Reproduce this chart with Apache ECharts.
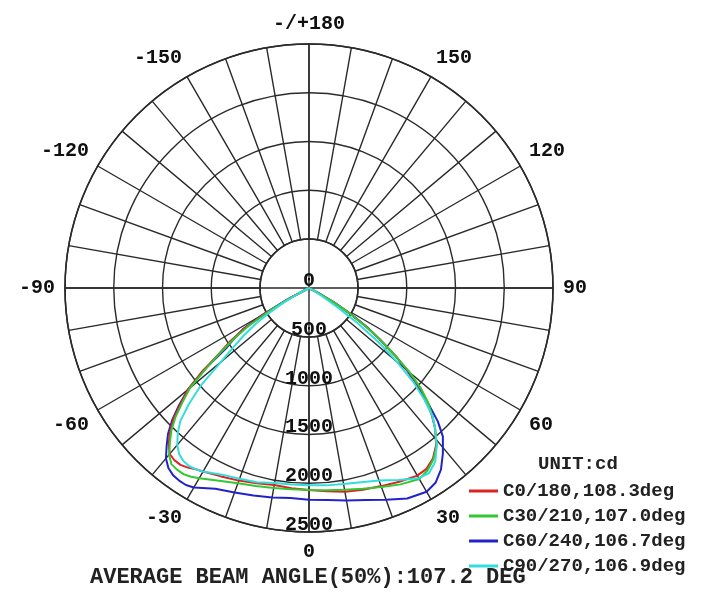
<!DOCTYPE html>
<html>
<head>
<meta charset="utf-8">
<script src="https://cdn.jsdelivr.net/npm/echarts@6/dist/echarts.min.js"></script>
<style>html,body{margin:0;padding:0;background:#fff;}#c{width:709px;height:600px;}</style>
</head>
<body>
<div id="c"></div>
<script>
// Angles in degrees (0 = nadir, bottom), intensities in cd
var angles = [-90,-64,-62,-60,-58,-56,-54,-52,-50,-48,-46,-44,-42,-40,-38,-36,-34,-32,-30,-25,-20,-15,-10,-5,0,5,10,15,20,25,30,33,36,39,42,44,46,48,50,52,54,56,58,60,62,64,90];
var c0_180  = [0,0,230,510,770,970,1130,1380,1620,1770,1930,2050,2150,2220,2240,2240,2220,2190,2170,2130,2100,2070,2050,2060,2070,2090,2120,2140,2160,2190,2220,2210,2160,2070,1930,1810,1690,1540,1340,1110,900,700,490,290,100,0,0];
var c30_210 = [0,0,210,460,720,920,1110,1330,1590,1740,1900,2030,2130,2230,2290,2300,2300,2280,2250,2180,2130,2100,2080,2070,2070,2080,2100,2130,2170,2220,2260,2230,2170,2080,1930,1820,1700,1550,1350,1110,900,700,490,290,100,0,0];
var c60_240 = [0,0,260,560,800,920,1050,1380,1620,1790,1950,2080,2180,2280,2340,2370,2380,2380,2360,2270,2230,2200,2180,2160,2170,2180,2210,2250,2310,2380,2410,2380,2300,2180,2050,1900,1690,1490,1310,1110,900,720,510,310,100,0,0];
var c90_270 = [0,0,120,310,490,660,820,980,1180,1490,1710,1900,2010,2100,2160,2190,2200,2190,2170,2110,2080,2060,2030,2020,2020,2030,2040,2060,2100,2170,2250,2260,2200,2080,1930,1820,1640,1440,1180,920,620,360,150,50,0,0,0];
var seriesNames = ['C0/180,108.3deg','C30/210,107.0deg','C60/240,106.7deg','C90/270,106.9deg'];
var seriesColors = ['#dd2222','#33c833','#2222cc','#33dddd'];
var radiusTicks = [0,500,1000,1500,2000,2500];
var unitText = 'UNIT:cd';
var beamText = 'AVERAGE BEAM ANGLE(50%):107.2 DEG';

var seriesValues = [c0_180, c30_210, c60_240, c90_270];
function zip(vals){ return vals.map(function(v,i){ return [v, angles[i]]; }); }

var chart = echarts.init(document.getElementById('c'), null, {renderer:'canvas'});
var gridColor = '#2a2a2a';
var series = seriesValues.map(function(vals, i){
  return {
    name: seriesNames[i], type:'line', coordinateSystem:'polar', polarIndex:1,
    data: zip(vals), symbol:'none', smooth:false,
    lineStyle:{color:seriesColors[i], width:2}, itemStyle:{color:seriesColors[i]},
    z: 3 + (i===2 ? -1 : 0)
  };
});
series.push({
  type:'scatter', coordinateSystem:'polar', polarIndex:1, symbolSize:0, silent:true,
  itemStyle:{opacity:1, color:'#111'},
  data: radiusTicks.map(function(r){ return [r, 0]; }),
  label:{show:true, position:'top', distance:0, formatter:function(p){return String(p.value[0]);},
    fontFamily:'Liberation Mono', fontWeight:'bold', fontSize:20, lineHeight:14, color:'#111', opacity:1},
  z: 5
});

chart.setOption({
  animation:false,
  backgroundColor:'#fff',
  title:[
    {text:unitText, left:533, top:450, textStyle:{fontFamily:'Liberation Mono', fontWeight:'bold', fontSize:19, color:'#222'}},
    {text:beamText, left:85, top:561, textStyle:{fontFamily:'Liberation Mono', fontWeight:'bold', fontSize:22, color:'#222'}}
  ],
  legend:{
    orient:'vertical', left:464, top:476, itemWidth:29, itemHeight:3, itemGap:5, icon:'rect',
    textStyle:{fontFamily:'Liberation Mono', fontWeight:'bold', fontSize:19, lineHeight:20, color:'#222'},
    data: seriesNames
  },
  polar:[
    {center:[309,288], radius:[49,244]},
    {center:[309,288], radius:[0,244]}
  ],
  angleAxis:[
    {polarIndex:0, type:'value', min:-180, max:180, interval:10, startAngle:90, clockwise:false,
     axisLine:{show:true, lineStyle:{color:gridColor, width:1.6}},
     axisTick:{show:false},
     splitLine:{show:true, lineStyle:{color:gridColor, width:1.4}},
     axisLabel:{show:true, margin:10, fontFamily:'Liberation Mono', fontWeight:'bold', fontSize:20, color:'#111',
       formatter:function(v){ if (v % 30 !== 0) return ''; if (v === -180) return '-/+180'; if (v === 180) return ''; return String(v); }}
    },
    {polarIndex:1, type:'value', min:-180, max:180, interval:90, startAngle:90, clockwise:false,
     axisLine:{show:false}, axisTick:{show:false}, axisLabel:{show:false},
     splitLine:{show:true, lineStyle:{color:gridColor, width:1.4}}
    }
  ],
  radiusAxis:[
    {polarIndex:0, type:'value', min:500, max:2500, interval:500,
     axisLine:{show:false}, axisTick:{show:false}, axisLabel:{show:false},
     splitLine:{show:true, lineStyle:{color:gridColor, width:1.4}}
    },
    {polarIndex:1, type:'value', min:0, max:2500, interval:500,
     axisLine:{show:false}, axisTick:{show:false}, axisLabel:{show:false}, splitLine:{show:false}
    }
  ],
  series: series
});
</script>
</body>
</html>
